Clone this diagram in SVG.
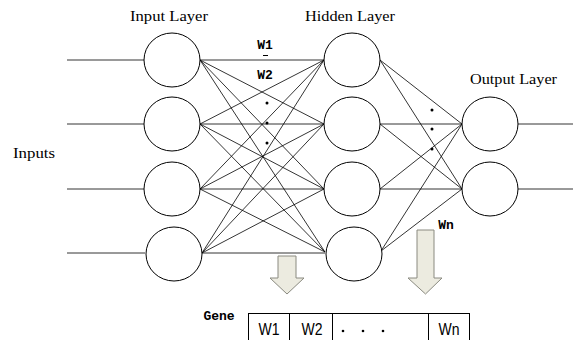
<svg xmlns="http://www.w3.org/2000/svg" width="579" height="340" viewBox="0 0 579 340">
<style>
.n{fill:#fff;stroke:#000;stroke-width:1}
.c line{stroke:#000;stroke-width:0.8}
.lbl{font-family:"Liberation Serif",serif;font-size:15px;fill:#000}
.w{font-family:"Liberation Mono",monospace;font-weight:bold;font-size:13px;fill:#000}
.t{font-family:"Liberation Sans",sans-serif;font-size:16px;fill:#000}
.arr{fill:#ecebe0;stroke:#8a8a80;stroke-width:1}
.dot{fill:#000}
</style>
<rect width="579" height="340" fill="#fff"/>
<g id="labels">
<text class="lbl" x="130" y="21" textLength="78" lengthAdjust="spacingAndGlyphs">Input Layer</text>
<text class="lbl" x="305" y="21" textLength="90" lengthAdjust="spacingAndGlyphs">Hidden Layer</text>
<text class="lbl" x="470" y="84" textLength="87" lengthAdjust="spacingAndGlyphs">Output Layer</text>
<text class="lbl" x="13" y="158" textLength="42" lengthAdjust="spacingAndGlyphs">Inputs</text>
<text class="w" x="265" y="49" text-anchor="middle">W1</text>
<line x1="263" y1="55.5" x2="268" y2="55.5" stroke="#000" stroke-width="1"/>
<text class="w" x="265" y="79" text-anchor="middle">W2</text>
<text class="w" x="446" y="229" text-anchor="middle">Wn</text>
<circle class="dot" cx="267" cy="103" r="1.5"/>
<circle class="dot" cx="267" cy="123" r="1.5"/>
<circle class="dot" cx="267" cy="143" r="1.5"/>
<circle class="dot" cx="432" cy="110" r="1.5"/>
<circle class="dot" cx="432" cy="129" r="1.5"/>
<circle class="dot" cx="432" cy="149" r="1.5"/>
</g>
<g class="c" id="connectors">
<line x1="67" y1="60" x2="144" y2="60"/>
<line x1="67" y1="124" x2="144" y2="124"/>
<line x1="67" y1="189" x2="144" y2="189"/>
<line x1="67" y1="253" x2="145" y2="253"/>
<line x1="200" y1="60" x2="324" y2="60"/>
<line x1="200" y1="60" x2="324" y2="124"/>
<line x1="200" y1="60" x2="324" y2="189"/>
<line x1="200" y1="60" x2="325" y2="252"/>
<line x1="200" y1="124" x2="324" y2="60"/>
<line x1="200" y1="124" x2="324" y2="124"/>
<line x1="200" y1="124" x2="324" y2="189"/>
<line x1="200" y1="124" x2="325" y2="252"/>
<line x1="200" y1="189" x2="324" y2="60"/>
<line x1="200" y1="189" x2="324" y2="124"/>
<line x1="200" y1="189" x2="324" y2="189"/>
<line x1="200" y1="189" x2="325" y2="252"/>
<line x1="202" y1="253" x2="324" y2="60"/>
<line x1="202" y1="253" x2="324" y2="124"/>
<line x1="202" y1="253" x2="324" y2="189"/>
<line x1="202" y1="253" x2="325" y2="253"/>
<line x1="380" y1="60" x2="462" y2="124"/>
<line x1="380" y1="60" x2="462" y2="189"/>
<line x1="380" y1="124" x2="462" y2="124"/>
<line x1="380" y1="124" x2="462" y2="189"/>
<line x1="380" y1="189" x2="462" y2="124"/>
<line x1="380" y1="189" x2="462" y2="189"/>
<line x1="381" y1="251" x2="462" y2="124"/>
<line x1="381" y1="251" x2="462" y2="189"/>
<line x1="518" y1="124" x2="573" y2="124"/>
<line x1="518" y1="189" x2="573" y2="189"/>
</g>
<g id="in1"><ellipse class="n" cx="172" cy="60" rx="28" ry="27"/></g>
<g id="in2"><ellipse class="n" cx="172" cy="124" rx="28" ry="27"/></g>
<g id="in3"><ellipse class="n" cx="172" cy="189" rx="28" ry="27"/></g>
<g id="in4"><ellipse class="n" cx="174" cy="254" rx="28" ry="27"/></g>
<g id="h1"><ellipse class="n" cx="352" cy="60" rx="28" ry="27"/></g>
<g id="h2"><ellipse class="n" cx="352" cy="124" rx="28" ry="27"/></g>
<g id="h3"><ellipse class="n" cx="352" cy="189" rx="28" ry="27"/></g>
<g id="h4"><ellipse class="n" cx="354" cy="254" rx="28" ry="27"/></g>
<g id="o1"><ellipse class="n" cx="490" cy="124" rx="28" ry="27"/></g>
<g id="o2"><ellipse class="n" cx="490" cy="189" rx="28" ry="27"/></g>
<g id="arrow1"><polygon class="arr" points="278,256 296,256 296,278 304,278 287,294 270,278 278,278"/></g>
<g id="arrow2"><polygon class="arr" points="417,230 434,230 434,278 442,278 425.5,294 408,278 417,278"/></g>
<g id="gene">
<text class="w" x="219" y="320" text-anchor="middle">Gene</text>
<rect x="248.5" y="313.5" width="221" height="40" fill="#fff" stroke="#000" stroke-width="1"/>
<line x1="289.5" y1="313" x2="289.5" y2="340" stroke="#000"/>
<line x1="332.5" y1="313" x2="332.5" y2="340" stroke="#000"/>
<line x1="428.5" y1="313" x2="428.5" y2="340" stroke="#000"/>
<text class="t" x="269" y="335" text-anchor="middle" textLength="21" lengthAdjust="spacingAndGlyphs">W1</text>
<text class="t" x="312" y="335" text-anchor="middle" textLength="21" lengthAdjust="spacingAndGlyphs">W2</text>
<text class="t" x="449" y="335" text-anchor="middle" textLength="21" lengthAdjust="spacingAndGlyphs">Wn</text>
<circle class="dot" cx="343" cy="331" r="1.3"/>
<circle class="dot" cx="363" cy="331" r="1.3"/>
<circle class="dot" cx="383" cy="331" r="1.3"/>
</g>
</svg>
